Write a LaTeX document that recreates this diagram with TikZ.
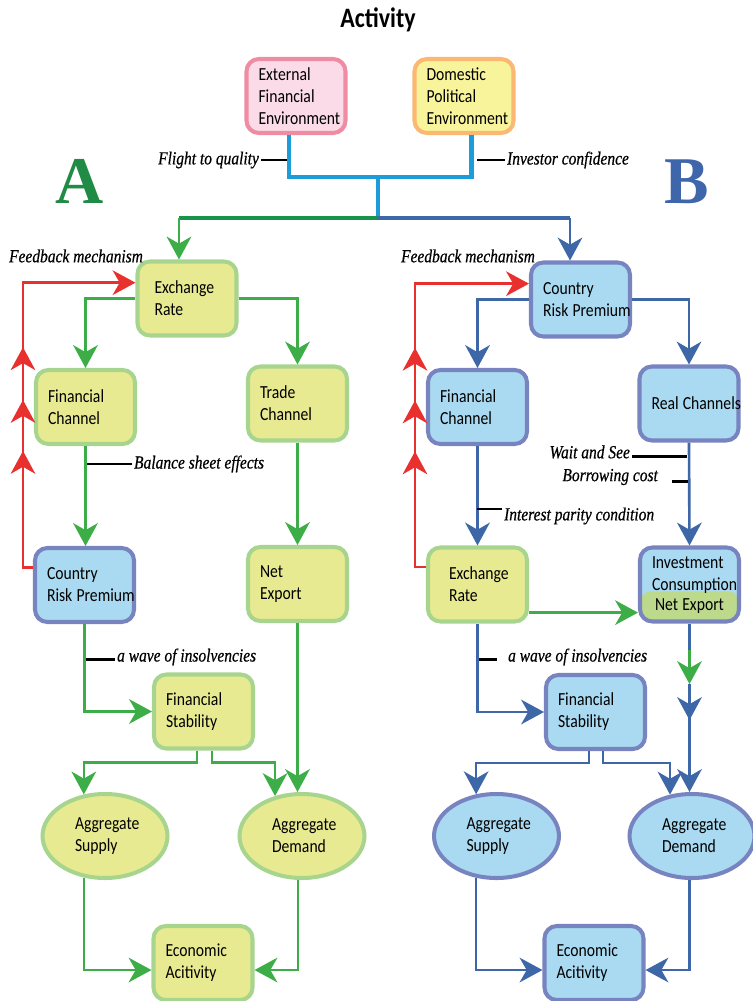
\documentclass[tikz,border=0pt]{standalone}
\usepackage{fontspec}
\newfontfamily\boxfont[FakeStretch=0.85]{Carlito}
\newfontfamily\lblfont[FakeStretch=0.84, FakeBold=0.6]{Liberation Serif}
\newfontfamily\letfont{Liberation Serif}
\usetikzlibrary{arrows.meta}
\usetikzlibrary{shapes.geometric}
\usetikzlibrary{decorations.markings}

\definecolor{yfill}{HTML}{E8EA92}
\definecolor{ybord}{HTML}{A8D58E}
\definecolor{bfill}{HTML}{A9DAF1}
\definecolor{bbord}{HTML}{7884C0}
\definecolor{gline}{HTML}{3DAD47}
\definecolor{bline}{HTML}{3E67A8}
\definecolor{rline}{HTML}{E8302E}
\definecolor{cline}{HTML}{1C9CD8}
\definecolor{dgline}{HTML}{15944A}
\definecolor{pinkfill}{HTML}{FADBE7}
\definecolor{pinkbord}{HTML}{EF8CA3}
\definecolor{lemfill}{HTML}{F8F49C}
\definecolor{orbord}{HTML}{FBB873}
\definecolor{nxfill}{HTML}{BDD98C}
\definecolor{agreen}{HTML}{1F8B44}
\definecolor{bblue}{HTML}{3F66AA}

\newcommand{\tsp}{\hspace{2.4pt}}

\begin{document}
\begin{tikzpicture}[
    x=0.02cm, y=-0.02cm,
    font=\boxfont\fontsize{10.5}{12.5}\selectfont
]
\tikzset{
    bigtip/.tip = {Stealth[length=13pt, width=14pt, inset=4pt]},
    ybox/.style = {rectangle, rounded corners=7pt, draw=ybord, fill=yfill, line width=2.3pt,
        minimum width=1.98cm, minimum height=1.48cm, text width=1.5cm, align=left, inner sep=0pt},
    bbox/.style = {ybox, draw=bbord, fill=bfill},
    yell/.style = {ellipse, draw=ybord, fill=yfill, line width=2.3pt,
        minimum width=2.5cm, minimum height=1.68cm, text width=1.2cm, align=left, inner sep=0pt},
    bell/.style = {yell, draw=bbord, fill=bfill},
    lbl/.style = {font=\lblfont\itshape\fontsize{10.5}{12}\selectfont, inner sep=1pt},
    tick/.style = {black, line width=1.6pt},
    gedge/.style = {gline, line width=1.5pt},
    bedge/.style = {bline, line width=1.5pt},
    garrow/.style = {gedge, -bigtip},
    barrow/.style = {bedge, -bigtip},
    feedback/.style = {rline, line width=1.5pt, -bigtip, postaction={decorate},
        decoration={markings,
            mark=at position 72pt with {\arrow{bigtip}},
            mark=at position 101pt with {\arrow{bigtip}},
            mark=at position 131pt with {\arrow{bigtip}}}}
}
\useasboundingbox (0,0) rectangle (752,1001);

% top part
\node[font=\boxfont\bfseries\fontsize{16}{18}\selectfont] (title) at (378,20) {Activity};
\node[ybox, draw=pinkbord, fill=pinkfill] (extE) at (296,96) {External\\Financial\\Environment};
\node[ybox, draw=orbord, fill=lemfill] (domE) at (464,96) {Domestic\\Political\\Environment};
\node[font=\letfont\bfseries\fontsize{38}{40}\selectfont, text=agreen] (lettA) at (80,181) {A};
\node[font=\letfont\bfseries\fontsize{38}{40}\selectfont, text=bblue] (lettB) at (687,182) {B};

\coordinate (hub) at (378,177);
\coordinate (split) at (378,218);
\coordinate (splitL) at (179,218);
\coordinate (splitR) at (570,218);

% left (A) boxes
\node[ybox, text width=1.3cm] (erA) at (187,298.5) {Exchange\\Rate};
\node[ybox] (fcA) at (85.5,407) {Financial\\Channel};
\node[ybox] (tcA) at (297.5,403.5) {Trade\\Channel};
\node[bbox] (crpA) at (84.5,585) {Country\\\mbox{Risk\tsp Premium}};
\node[ybox] (nxA) at (297.5,584) {Net\\Export};
\node[ybox] (fsA) at (203.5,711.5) {Financial\\Stability};
\node[yell] (asA) at (105,836) {Aggregate\\Supply};
\node[yell] (adA) at (302,836) {Aggregate\\Demand};
\node[ybox] (eaA) at (203,963) {Economic\\Acitivity};

% right (B) boxes
\node[bbox] (crpB) at (580.5,299.5) {Country\\\mbox{Risk\tsp Premium}};
\node[bbox] (fcB) at (477.5,407) {Financial\\Channel};
\node[bbox] (rcB) at (689,403.5) {\mbox{Real\tsp Channels}};
\node[ybox, text width=1.14cm] (erB) at (477.5,584.5) {Exchange\\Rate};
\node[bbox, path picture={
    \fill[nxfill, rounded corners=6pt] ([yshift=-3pt]path picture bounding box.south west)
        rectangle ([yshift=17pt]path picture bounding box.south east);}] (icB) at (689.5,584.5)
    {Investment\\Consumption\\\phantom{Net}};
\node (icNX) at (689.5,606) {Net\tsp Export};
\node[bbox] (fsB) at (595.5,712) {Financial\\Stability};
\node[bell] (asB) at (496.5,836) {Aggregate\\Supply};
\node[bell] (adB) at (692,836) {Aggregate\\Demand};
\node[bbox] (eaB) at (594,963) {Economic\\Acitivity};

% tree from the two environments
\draw[cline, line width=2.8pt] ([xshift=-4pt]extE.south) |- (hub) -| ([xshift=4.5pt]domE.south);
\draw[cline, line width=2.8pt] (hub) -- (split);
\draw[dgline, line width=2.3pt] (split) -- (splitL);
\draw[bline, line width=2.3pt] (split) -- (splitR);
\draw[garrow] (splitL) -- (splitL |- erA.north);
\draw[barrow] (splitR) -- (splitR |- crpB.north);
\node[lbl, anchor=east] (flq) at (261,160) {Flight to quality};
\draw[tick] (flq.east) -- ++(26,0);
\node[lbl, anchor=west] (invc) at (505,160) {Investor confidence};
\draw[tick] (invc.west) -- ++(-28,0);

% A connectors
\draw[garrow] (erA.west) -| (fcA.north);
\draw[garrow] (erA.east) -| (tcA.north);
\draw[garrow] (fcA.south) -- (fcA.south |- crpA.north);
\draw[garrow] (tcA.south) -- (nxA.north);
\draw[garrow] (crpA.south) |- (fsA.west);
\draw[garrow] ([xshift=-3.7pt]fsA.south) -- ++(0,12) -| (asA.117);
\draw[garrow] ([xshift=4.8pt]fsA.south) -- ++(0,12) -| (adA.124);
\draw[garrow] (nxA.south) -- (nxA.south |- adA.north);
\draw[garrow] (asA.243) |- ([yshift=-4pt]eaA.west);
\draw[garrow] (adA.265) |- ([yshift=-4pt]eaA.east);
\draw[feedback] ([yshift=10pt]crpA.west) -- ++(-10,0) |- ([yshift=9pt]erA.west);
\node[lbl, anchor=west] (fbA) at (7,256) {Feedback mechanism};
\node[lbl, anchor=west] (bse) at (132,464) {Balance sheet effects};
\draw[tick] (bse.west) -- ++(-45,0);
\node[lbl, anchor=west] (wavA) at (115,657) {a wave of insolvencies};
\draw[tick] ([yshift=-1.5pt]wavA.west) -- ++(-29,0);

% B connectors
\coordinate (nxG1) at (689.5,650);
\coordinate (nxG2) at (689.5,684);
\draw[barrow] (crpB.west) -| (fcB.north);
\draw[barrow] (crpB.east) -| (rcB.north);
\draw[barrow] (fcB.south) -- (erB.north);
\draw[barrow] (rcB.south) -- (icB.north);
\draw[garrow] ([yshift=-16pt]erB.east) -- ([yshift=-16pt]icB.west);
\draw[barrow] (erB.south) |- (fsB.west);
\draw[barrow] ([xshift=-3.7pt]fsB.south) -- ++(0,12) -| (asB.116);
\draw[barrow] ([xshift=4.3pt]fsB.south) -- ++(0,12) -| (adB.118);
\draw[bedge] (icB.south) -- (nxG1);
\draw[garrow] (nxG1) -- (nxG2);
\draw[barrow, postaction={decorate}, decoration={markings,
    mark=at position 20.5pt with {\arrow{bigtip}}}] (nxG2) -- (nxG2 |- adB.north);
\draw[barrow] (asB.244) |- ([yshift=-4pt]eaB.west);
\draw[barrow] (adB.267) |- ([yshift=-4pt]eaB.east);
\draw[feedback] ([yshift=10pt]erB.west) -- ++(-11,0) |- ([yshift=9pt]crpB.west);
\node[lbl, anchor=west] (fbB) at (399,256) {Feedback mechanism};
\node[lbl, anchor=east] (wsee) at (632,452) {Wait and See};
\draw[tick] ([yshift=-2.5pt]wsee.east) -- ++(55,0);
\node[lbl, anchor=east] (bcost) at (660,477) {Borrowing cost};
\draw[tick] ([xshift=7pt, yshift=-2.5pt]bcost.east) -- ++(16,0);
\node[lbl, anchor=west] (ipc) at (502,516) {Interest parity condition};
\draw[tick] ([yshift=4pt]ipc.west) -- ++(-25,0);
\node[lbl, anchor=west] (wavB) at (506,657) {a wave of insolvencies};
\draw[tick] ([xshift=-5pt, yshift=-1.5pt]wavB.west) -- ++(-18,0);
\end{tikzpicture}
\end{document}
